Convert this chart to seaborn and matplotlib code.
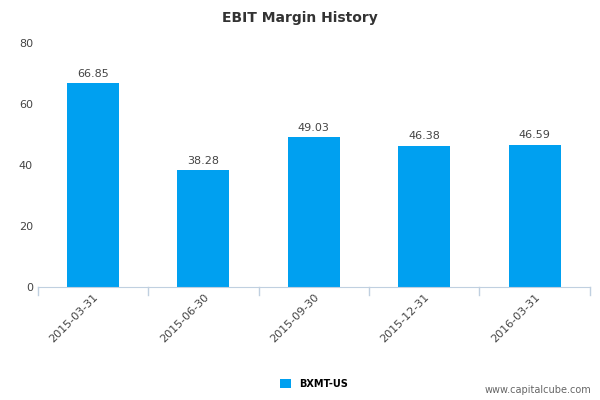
import matplotlib
matplotlib.use("Agg")
import matplotlib.pyplot as plt
import seaborn as sns
import pandas as pd

categories = ["2015-03-31", "2015-06-30", "2015-09-30", "2015-12-31", "2016-03-31"]
values = [66.85, 38.28, 49.03, 46.38, 46.59]
series_name = "BXMT-US"
yticks = [0, 20, 40, 60, 80]

df = pd.DataFrame({"date": categories, "value": values})
fig = plt.figure(figsize=(6, 4), dpi=100)
ax = fig.add_axes([0.063, 0.2825, 0.92, 0.61])
sns.barplot(data=df, x="date", y="value", color="#00a0f0", width=0.47, saturation=1, ax=ax, label=series_name)
ax.set_xlim(-0.5, len(categories) - 0.5)
ax.set_ylim(0, 80)
ax.set_yticks(yticks)
ax.set_xlabel(""); ax.set_ylabel("")
for s in ["top", "right", "left"]:
    ax.spines[s].set_visible(False)
ax.spines["bottom"].set_color("#c0d0e0")
ax.tick_params(axis="y", length=0, labelsize=8, colors="#444444")
ax.set_xticks([i for i in range(len(categories))])
ax.set_xticklabels(categories, rotation=45, ha="right", rotation_mode="anchor", fontsize=8, color="#444444")
ax.tick_params(axis="x", length=0)
for b in [i - 0.5 for i in range(len(categories) + 1)]:
    ax.plot([b, b], [0, -2.5], color="#c0d0e0", lw=1, clip_on=False)
for i, v in enumerate(values):
    ax.text(i, v + 1.5, f"{v:.2f}", ha="center", va="bottom", fontsize=8, color="#444444")
fig.text(0.5, 0.955, "EBIT Margin History", ha="center", va="center", fontsize=10, fontweight="bold", color="#333333")
leg = ax.legend(loc="upper center", bbox_to_anchor=(0.5, -0.34), frameon=False, fontsize=7,
                handlelength=1.2, handleheight=1.0, prop={"weight": "bold", "size": 7})
fig.text(0.985, 0.025, "www.capitalcube.com", ha="right", va="center", fontsize=7, color="#666666")
fig.savefig("out.png")
